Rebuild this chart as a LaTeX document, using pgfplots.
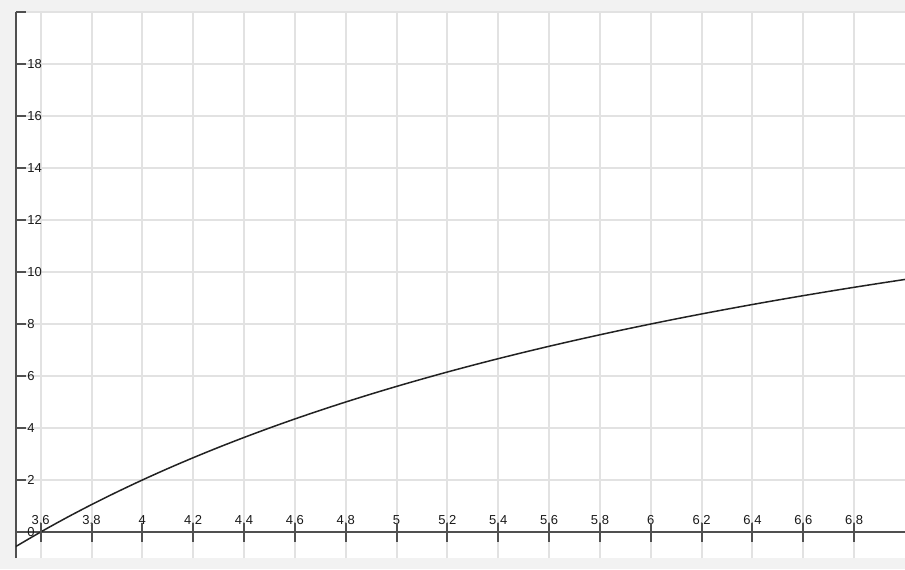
\documentclass[border=0pt]{standalone}
\usepackage{fontspec}
\setmainfont{Liberation Sans}
\usepackage{pgfplots}
\pgfplotsset{compat=1.18}
\definecolor{bgc}{HTML}{F2F2F2}
\definecolor{gridc}{HTML}{E2E2E2}
\definecolor{axc}{HTML}{505050}
\definecolor{txtc}{HTML}{1A1A1A}
\definecolor{curvec}{HTML}{222222}
\pgfplotsset{
  common/.style={
    at={(0,0)}, anchor=south west,
    scale only axis, width=444.5pt, height=273pt,
    xmin=3.503, xmax=7.0, ymin=-1, ymax=20,
    xtick={3.6,3.8,4,4.2,4.4,4.6,4.8,5,5.2,5.4,5.6,5.8,6,6.2,6.4,6.6,6.8},
  }
}
\begin{document}
\begin{tikzpicture}
\fill[bgc] (-8pt,-5.5pt) rectangle (444.5pt,279pt);
\begin{axis}[
  common,
  axis background/.style={fill=white},
  axis x line=middle, axis y line=left,
  axis line style={-, draw=axc, line width=0.8pt},
  x axis line style={line width=1.2pt},
  xticklabels={{3,6},{3,8},4,{4,2},{4,4},{4,6},{4,8},5,{5,2},{5,4},{5,6},{5,8},6,{6,2},{6,4},{6,6},{6,8}},
  ytick={0,2,4,6,8,10,12,14,16,18,20},
  yticklabels={0,2,4,6,8,10,12,14,16,18,{}},
  xmajorgrids, ymajorgrids,
  grid style={draw=gridc, line width=1pt},
  tick align=inside, major tick length=5pt,
  xtick style={draw=none},
  ytick style={draw=axc, line width=0.8pt},
  ticklabel style={font=\fontsize{6.5}{7}\selectfont, text=txtc},
  xticklabel style={anchor=base, inner sep=0pt, yshift=3.6pt},
  yticklabel style={anchor=west, inner sep=0pt, xshift=5.5pt},
  clip=true,
]
\addplot[curvec, line width=0.75pt, smooth, no markers] table {
x y
3.5 -0.571
3.6 0
3.7 0.541
3.8 1.053
3.9 1.538
4.0 2
4.1 2.439
4.2 2.857
4.3 3.256
4.4 3.636
4.5 4
4.6 4.348
4.7 4.681
4.8 5
4.9 5.306
5.0 5.6
5.1 5.882
5.2 6.154
5.3 6.415
5.4 6.667
5.5 6.909
5.6 7.143
5.7 7.368
5.8 7.586
5.9 7.797
6.0 8
6.1 8.197
6.2 8.387
6.3 8.571
6.4 8.75
6.5 8.923
6.6 9.091
6.7 9.254
6.8 9.412
6.9 9.565
7.0 9.714
};
\end{axis}
\begin{axis}[
  common,
  axis x line=middle, axis y line=none,
  axis line style={draw=none},
  xticklabels={},
  ytick=\empty,
  tick align=center, major tick length=9.5pt,
  xtick style={draw=axc, line width=1pt},
]
\end{axis}
\pgfresetboundingbox
\useasboundingbox (-8pt,-5.5pt) rectangle (444.5pt,279pt);
\end{tikzpicture}
\end{document}
